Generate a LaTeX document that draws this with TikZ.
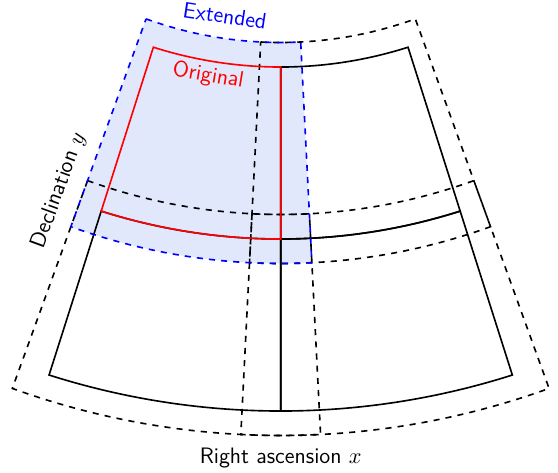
\documentclass[tikz,border=0pt]{standalone}
\usetikzlibrary{positioning}
\definecolor{extfill}{RGB}{225,232,252}
\begin{document}
\begin{tikzpicture}[x=1.73cm, y=1.73cm, font=\sffamily\fontsize{11}{13}\selectfont]
    \tikzstyle{tilebox}=[draw, thick]
    \tikzstyle{origbox}=[draw=red, thick]
    \tikzstyle{extbox}=[draw, thick, dashed]
    \tikzstyle{extblue}=[draw=blue, thick, dashed]

    \useasboundingbox (-2.807, -3.53) rectangle (2.773, -8.25);

    % Extended area of the original tile
    \fill[extfill] (250.1:3.955) arc (250.1:272.9:3.955) -- (272.9:6.165) arc (272.9:250.1:6.165) -- cycle;

    % Extended tiles
    \draw[extbox] (267.1:3.955) arc (267.1:289.9:3.955) -- (289.9:6.165) arc (289.9:267.1:6.165) -- cycle;
    \draw[extbox] (250.1:5.675) arc (250.1:272.9:5.675) -- (272.9:7.885) arc (272.9:250.1:7.885) -- cycle;
    \draw[extbox] (267.1:5.675) arc (267.1:289.9:5.675) -- (289.9:7.885) arc (289.9:267.1:7.885) -- cycle;

    % Tiles
    \draw[tilebox] (270:4.2) arc (270:287.65:4.2) -- (287.65:5.92) arc (287.65:270:5.92) -- cycle;
    \draw[tilebox] (252.35:5.92) arc (252.35:270:5.92) -- (270:7.64) arc (270:252.35:7.64) -- cycle;
    \draw[tilebox] (270:5.92) arc (270:287.65:5.92) -- (287.65:7.64) arc (287.65:270:7.64) -- cycle;

    % Original tile
    \draw[origbox] (252.35:4.2) arc (252.35:270:4.2) -- (270:5.92) arc (270:252.35:5.92) -- cycle;
    \draw[extblue] (250.1:3.955) arc (250.1:272.9:3.955) -- (272.9:6.165) arc (272.9:250.1:6.165) -- cycle;

    % Labels
    \node[blue, rotate=-8.6] (ext_label) at (261.4:3.73) {Extended};
    \node[red, rotate=-9.6] (orig_label) at (260.4:4.35) {Original};
    \node[rotate=70] (dec_label) at (247.8:5.87) {Declination $y$};

    \coordinate (ext_bottom) at (270:7.885);
    \node[below=0.05 of ext_bottom] (ra_label) {Right ascension $x$};
\end{tikzpicture}
\end{document}
